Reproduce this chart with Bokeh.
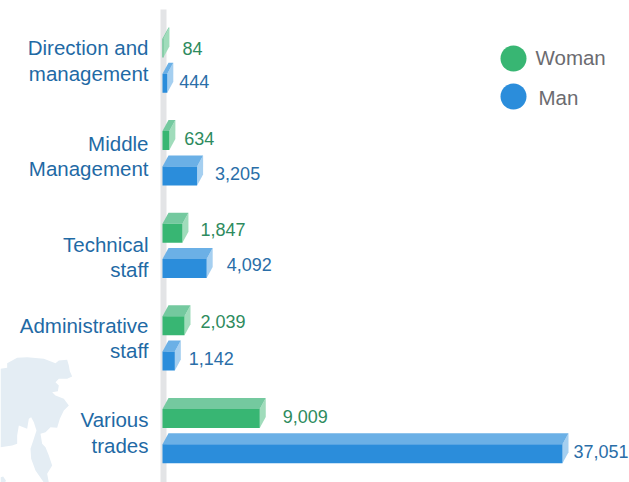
from bokeh.plotting import figure
from bokeh.models import Range1d, ColumnDataSource
from bokeh.core.properties import value
from bokeh.embed import file_html
from bokeh.resources import INLINE

categories = ["Direction and\nmanagement", "Middle\nManagement", "Technical\nstaff", "Administrative\nstaff", "Various\ntrades"]
woman = [84, 634, 1847, 2039, 9009]
man = [444, 3205, 4092, 1142, 37051]
series_names = ["Woman", "Man"]

# decorative background map outline (at 3x)
map_zx = [0,20,20,35,50,80,130,165,175,200,205,208,215,200,175,165,175,172,155,165,190,205,190,178,170,150,135,120,125,135,145,155,140,145,130,105,92,90,100,108,100,92,85,80,55,50,50,35,0]
map_zy = [55,52,38,30,22,20,25,38,30,28,45,62,78,85,85,95,105,122,125,135,145,165,180,205,232,230,245,250,280,290,315,345,370,396,396,360,325,295,265,240,215,200,205,235,225,255,280,285,290]
islet_zx = [0,8,16,14,0]
islet_zy = [380,378,390,396,396]

# label placement tweaks, in pixels
woman_gap = [19, 15, 18, 16, 23]
man_gap = [12, 18, 20, 14, 11]
woman_dy = [0, -2, -4, -4, -2]
man_dy = [-2, -2, -4, -3, -2]
cat_dy = [0, 3, 11, 0, 1.5]

FONT = "Liberation Sans"
W, H = 629, 482
px_per_unit = 400 / 37051
X0 = 162
xpx = lambda px: (px - X0) / px_per_unit

p = figure(width=W, height=H, output_backend="svg", toolbar_location=None,
           x_range=Range1d(-X0 / px_per_unit, (W - X0) / px_per_unit),
           y_range=Range1d(H, 0), min_border=0, outline_line_color=None, margin=0)
p.axis.visible = False
p.grid.visible = False
p.background_fill_color = "white"
p.border_fill_color = "white"

p.patches([[xpx(v / 3) for v in map_zx], [xpx(v / 3) for v in islet_zx]],
          [[350 + v / 3 for v in map_zy], [350 + v / 3 for v in islet_zy]],
          fill_color="#e4edf4", line_color=None)
p.quad(left=[xpx(160)], right=[xpx(166)], top=[9], bottom=[H], fill_color="#e3e4e6", line_color=None)

GROUP0, STEP, BAR_H = 38, 92.6, 19
DX, DY = 6, 11

def bars(vals, offset, gaps, dys, front, top, side, txt):
    sx, sy, tx, ty, qy0, qy1 = [], [], [], [], [], []
    d = xpx(X0 + DX)
    for i, v in enumerate(vals):
        y0 = GROUP0 + i * STEP + offset
        y1 = y0 + BAR_H
        tx.append([0, d, v + d, v]); ty.append([y0, y0 - DY, y0 - DY, y0])
        sx.append([v, v + d, v + d, v]); sy.append([y0, y0 - DY, y1 - DY, y1])
        qy0.append(y0); qy1.append(y1)
    p.patches(sx, sy, fill_color=side, line_color=None)
    p.patches(tx, ty, fill_color=top, line_color=None)
    p.quad(left=[0] * len(vals), right=vals, top=qy0, bottom=qy1, fill_color=front, line_color=None)
    src = ColumnDataSource(dict(x=[v + xpx(X0 + g) for v, g in zip(vals, gaps)],
                                y=[(a + b) / 2 + o for a, b, o in zip(qy0, qy1, dys)],
                                t=[f"{v:,}" for v in vals]))
    p.text("x", "y", text="t", source=src, text_font=value(FONT), text_font_size="18px",
           text_color=txt, text_baseline="middle", text_align="left")

bars(woman, 0, woman_gap, woman_dy, "#38b673", "#74c99f", "#a0dcbb", "#2e8b5e")
bars(man, 35.3, man_gap, man_dy, "#2b8ddb", "#6bb0e6", "#a5cff0", "#2a6ea8")

ys = [GROUP0 + i * STEP + 22 + o for i, o in enumerate(cat_dy)]
p.text([xpx(148)] * len(categories), ys, text=categories, text_font=value(FONT),
       text_font_size="20.5px", text_color="#1f6aa5", text_align="right", text_baseline="middle",
       text_line_height=1.1)

p.scatter([xpx(513), xpx(513)], [58, 96], size=26, marker="circle",
          fill_color=["#38b673", "#2b8ddb"], line_color=None)
p.text([xpx(535), xpx(538)], [57, 97], text=series_names, text_font=value(FONT),
       text_font_size="20.5px", text_color="#6b6b70", text_baseline="middle")

open("out.html", "w").write(file_html(p, INLINE))
